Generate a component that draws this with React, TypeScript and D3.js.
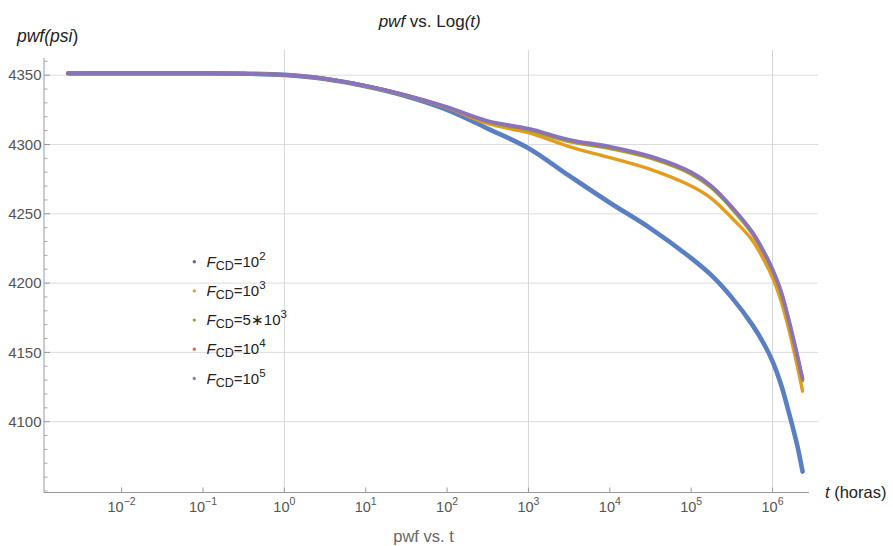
import React from "react";
import * as d3 from "d3";

// time in hours (sample positions)
const tHours = [0.0022, 0.01, 0.1, 0.316, 1, 3.16, 10, 31.6, 100, 316, 1000, 3160, 1e4, 3.16e4, 1e5, 1.78e5, 3.16e5, 5.62e5, 7.94e5, 1e6, 1.26e6, 1.58e6, 2e6, 2.34e6];

const pwfFcd1e2 = [4351.3, 4351.3, 4351.3, 4351.1, 4350.2, 4347.3, 4342, 4334.8, 4325, 4311.5, 4297.3, 4277.5, 4258, 4239.5, 4218, 4205.5, 4189.5, 4170, 4155.5, 4143.5, 4127.5, 4107, 4083.5, 4064];
const pwfFcd1e3 = [4351.3, 4351.3, 4351.3, 4351.1, 4350.2, 4347.4, 4342.2, 4335.3, 4326.5, 4315, 4308.5, 4298.5, 4290.5, 4282, 4270, 4261, 4247, 4231, 4216, 4204, 4188, 4167, 4141, 4122];
const pwfFcd5e3 = [4351.3, 4351.3, 4351.3, 4351.1, 4350.2, 4347.5, 4342.3, 4335.5, 4326.8, 4316.2, 4310.3, 4302, 4297, 4290, 4278.5, 4268.5, 4253.5, 4235.5, 4220.5, 4208.5, 4193, 4172, 4147, 4129.5];
const pwfFcd1e4 = [4351.3, 4351.3, 4351.3, 4351.1, 4350.2, 4347.5, 4342.3, 4335.5, 4326.9, 4316.6, 4311, 4303, 4298, 4291, 4279.5, 4269.5, 4254.5, 4236.5, 4221.5, 4209.5, 4194.5, 4173.5, 4148.5, 4130.5];
const pwfFcd1e5 = [4351.3, 4351.3, 4351.3, 4351.1, 4350.2, 4347.5, 4342.3, 4335.5, 4327, 4317, 4311.5, 4303.5, 4298.5, 4291.5, 4280, 4270, 4255, 4237, 4222, 4210, 4195, 4174, 4149, 4131];

const seriesNames = ["1e2", "1e3", "5e3", "1e4", "1e5"];
const legendMantissa = ["10", "10", "5\u221710", "10", "10"];
const legendExp = ["2", "3", "3", "4", "5"];
const seriesColors = ["#5a7fc2", "#e49c1f", "#8fb032", "#eb6235", "#8874bd"];
const legendDotColors = ["#5b6a8e", "#e0a030", "#a0a030", "#e07050", "#8a80b8"];
const seriesWidths = [4.6, 3.4, 3.2, 3.2, 3.6];

const yTicks = [4100, 4150, 4200, 4250, 4300, 4350];
const xTickExps = [-2, -1, 0, 1, 2, 3, 4, 5, 6];
const xGridExps = [0, 3, 6];

export default function App() {
  const W = 893, H = 546;
  const x = d3.scaleLog().domain([Math.pow(10, -2.954), Math.pow(10, 6.448)]).range([44, 809]);
  const y = d3.scaleLinear().domain([4048.9, 4362.4]).range([492.5, 58]);
  const allSeries = [pwfFcd1e2, pwfFcd1e3, pwfFcd5e3, pwfFcd1e4, pwfFcd1e5];
  const line = d3
    .line<number>()
    .x((_, i) => x(tHours[i]))
    .y((d) => y(d))
    .curve(d3.curveCatmullRom.alpha(0.5));

  const minorY = d3.range(4050, 4361, 10).filter((v) => !yTicks.includes(v));
  const font = "'Liberation Sans', Arial, sans-serif";
  const legendY0 = 261.7;
  const legendStep = 29.2;

  return (
    <svg width={W} height={H} style={{ position: "absolute", left: 0, top: 0, background: "#fff" }} fontFamily={font}>
      {/* grid */}
      {yTicks.map((v) => (
        <line key={"gy" + v} x1={44} x2={818} y1={y(v)} y2={y(v)} stroke="#dcdcdc" strokeWidth={1} />
      ))}
      {xGridExps.map((e) => (
        <line key={"gx" + e} x1={x(Math.pow(10, e))} x2={x(Math.pow(10, e))} y1={50} y2={492.5} stroke="#d6d6d6" strokeWidth={1} />
      ))}
      {/* axes */}
      <line x1={44} x2={44} y1={58} y2={492.5} stroke="#9a9a9a" strokeWidth={1} />
      <line x1={44} x2={809} y1={492.5} y2={492.5} stroke="#9a9a9a" strokeWidth={1} />
      {yTicks.map((v) => (
        <g key={"ty" + v}>
          <line x1={44} x2={50} y1={y(v)} y2={y(v)} stroke="#9a9a9a" />
          <text x={41.5} y={y(v) + 5.3} textAnchor="end" fontSize={15} fill="#555">{v}</text>
        </g>
      ))}
      {minorY.map((v) => (
        <line key={"my" + v} x1={44} x2={47.5} y1={y(v)} y2={y(v)} stroke="#a8a8a8" />
      ))}
      {xTickExps.map((e) => {
        const px = x(Math.pow(10, e));
        return (
          <g key={"tx" + e}>
            <line x1={px} x2={px} y1={492.5} y2={487.5} stroke="#9a9a9a" />
            <text x={px} y={512} textAnchor="middle" fontSize={14.5} fill="#555">
              10<tspan fontSize={10.5} dy={-7}>{e < 0 ? "\u2212" + Math.abs(e) : String(e)}</tspan>
            </text>
          </g>
        );
      })}
      {/* series */}
      {allSeries.map((s, i) => (
        <path key={seriesNames[i]} d={line(s) || ""} fill="none" stroke={seriesColors[i]} strokeWidth={seriesWidths[i]} strokeLinecap="round" strokeLinejoin="round" />
      ))}
      {/* legend */}
      {seriesNames.map((n, i) => {
        const cy = legendY0 + i * legendStep;
        return (
          <g key={"lg" + n}>
            <circle cx={194.3} cy={cy} r={1.7} fill={legendDotColors[i]} />
            <text x={206.5} y={cy + 5} fontSize={15} fill="#222">
              <tspan fontStyle="italic">F</tspan>
              <tspan fontSize={12.5} dy={3}>CD</tspan>
              <tspan fontSize={15} dy={-3}>{"=" + legendMantissa[i]}</tspan>
              <tspan fontSize={11.5} dy={-7}>{legendExp[i]}</tspan>
            </text>
          </g>
        );
      })}
      {/* titles */}
      <text x={429.7} y={26.5} textAnchor="middle" fontSize={17} fill="#222">
        <tspan fontStyle="italic">pwf</tspan>
        <tspan> vs. Log</tspan>
        <tspan fontStyle="italic">(t)</tspan>
      </text>
      <text x={17} y={42} fontSize={17.5} fill="#222">
        <tspan fontStyle="italic">pwf(psi</tspan>
        <tspan>)</tspan>
      </text>
      <text x={825} y={498} fontSize={16.5} fill="#222">
        <tspan fontStyle="italic">t</tspan>
        <tspan> (horas)</tspan>
      </text>
      <text x={423.5} y={541.5} textAnchor="middle" fontSize={16.5} fill="#666">pwf vs. t</text>
    </svg>
  );
}
